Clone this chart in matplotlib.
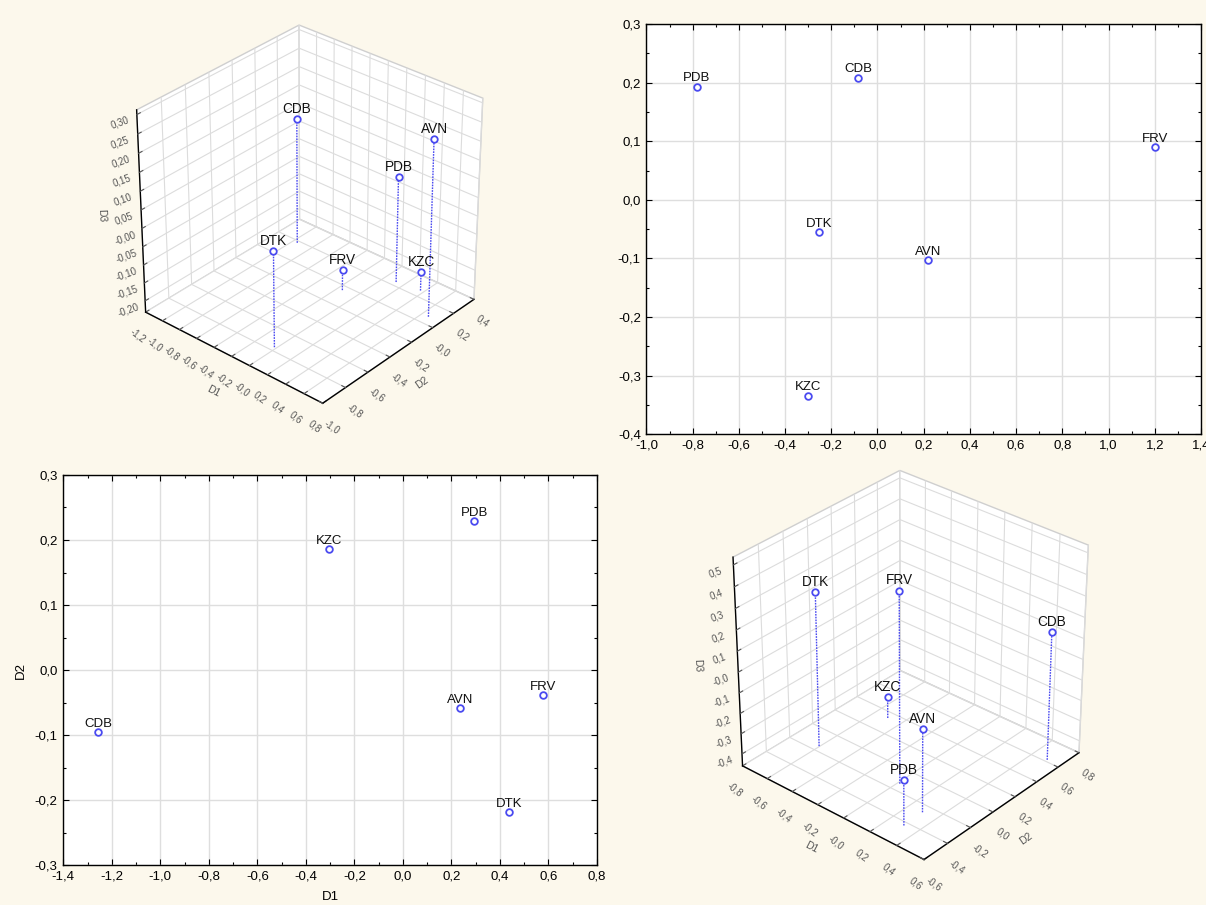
import matplotlib
matplotlib.use("Agg")
import matplotlib.pyplot as plt
from matplotlib.ticker import FuncFormatter, MultipleLocator, FixedLocator
import numpy as np

plt.rcParams['font.family'] = ['Liberation Sans', 'DejaVu Sans']

# ---------------- data ----------------
names = ["AVN", "CDB", "DTK", "FRV", "KZC", "PDB"]

# top-left 3D
tl_d1 = [0.67, -0.952, -0.02, -0.15, 0.366, 0.121]
tl_d2 = [0.073, 0.179, -0.767, -0.045, 0.263, 0.239]
tl_d3 = [0.249, 0.118, 0.031, -0.175, -0.178, 0.06]

# top-right 2D
tr_x = [0.218, -0.083, -0.252, 1.203, -0.299, -0.783]
tr_y = [-0.103, 0.208, -0.055, 0.090, -0.334, 0.193]

# bottom-left 2D (D1 vs D2)
bl_d1 = [0.235, -1.255, 0.438, 0.578, -0.305, 0.295]
bl_d2 = [-0.059, -0.096, -0.219, -0.039, 0.186, 0.229]

# bottom-right 3D
br_d1 = [0.30, 0.505, -0.604, 0.015, -0.50, 0.305]
br_d2 = [-0.265, 0.618, -0.154, -0.135, 0.342, -0.431]
br_d3 = [-0.058, 0.162, 0.292, 0.458, -0.352, -0.238]

BG = "#fcf8ec"
MK = "#4a4af0"
W, H = 1206, 905

fig = plt.figure(figsize=(W / 100, H / 100), dpi=100, facecolor=BG)


def rect(x0, y0, x1, y1):
    return [x0 / W, 1 - y1 / H, (x1 - x0) / W, (y1 - y0) / H]


def comma(fmt):
    return FuncFormatter(lambda v, p: (fmt % v).replace('.', ','))


# ---------------- 2D panels ----------------
def panel2d(r, xs, ys, xlim, ylim, xlab=None, ylab=None):
    ax = fig.add_axes(r)
    ax.set_facecolor("white")
    ax.set_xlim(*xlim)
    ax.set_ylim(*ylim)
    ax.xaxis.set_major_locator(MultipleLocator(0.2))
    ax.xaxis.set_minor_locator(MultipleLocator(0.1))
    ax.yaxis.set_major_locator(MultipleLocator(0.1))
    ax.yaxis.set_minor_locator(MultipleLocator(0.05))
    ax.xaxis.set_major_formatter(comma('%.1f'))
    ax.yaxis.set_major_formatter(comma('%.1f'))
    ax.grid(True, which='major', color='#dedede', lw=1.0)
    ax.set_axisbelow(True)
    ax.tick_params(which='both', direction='in', top=True, right=True,
                   labelsize=9.5, colors='black', pad=4)
    ax.tick_params(which='major', length=4, width=0.8)
    ax.tick_params(which='minor', length=2.5, width=0.8)
    for s in ax.spines.values():
        s.set_color('black')
        s.set_linewidth(1.0)
    ax.plot(xs, ys, 'o', ms=4.8, mfc='white', mec=MK, mew=1.3, ls='none', zorder=3)
    for n, x, y in zip(names, xs, ys):
        ax.annotate(n, (x, y), xytext=(0, 1.8), textcoords='offset points',
                    ha='center', va='bottom', fontsize=9.5, color='#111111')
    if xlab:
        ax.set_xlabel(xlab, fontsize=9.5, labelpad=6)
    if ylab:
        ax.set_ylabel(ylab, fontsize=9.5, labelpad=6)
    return ax


panel2d(rect(646.4, 24, 1201, 434.3), tr_x, tr_y, (-1.0, 1.4), (-0.4, 0.3))
panel2d(rect(63.3, 475, 597, 865), bl_d1, bl_d2, (-1.4, 0.8), (-0.3, 0.3),
        xlab='D1', ylab='D2')


# ---------------- 3D panels ----------------
def panel3d(cx, cy, zoom, zasp, xs, ys, zs, xlim, ylim, zlim, xt, yt, zt, zfmt, dz):
    r = [(cx - 240) / W, 1 - (cy + 240) / H, 480 / W, 480 / H]
    ax = fig.add_axes(r, projection='3d', proj_type='persp', focal_length=0.9)
    ax.patch.set_alpha(0)
    ax.set_facecolor((0, 0, 0, 0))
    ax.set_xlim(*xlim)
    ax.set_ylim(*ylim)
    ax.set_zlim(*zlim)
    ax.set_box_aspect((1, 1, zasp), zoom=zoom)
    ax.view_init(elev=31.5, azim=-49)
    ax.xaxis.set_major_locator(FixedLocator(xt))
    ax.yaxis.set_major_locator(FixedLocator(yt))
    ax.zaxis.set_major_locator(FixedLocator(zt))
    ax.xaxis.set_major_formatter(comma('%.1f'))
    ax.yaxis.set_major_formatter(comma('%.1f'))
    ax.zaxis.set_major_formatter(comma(zfmt))
    ax.zaxis.set_ticks_position('lower')
    ax.zaxis.set_label_position('lower')
    for a in (ax.xaxis, ax.yaxis, ax.zaxis):
        a.set_pane_color((1, 1, 1, 1))
        a.pane.set_edgecolor('#cfcfcf')
        a.line.set_color('black')
        a.line.set_linewidth(1.0)
        a._axinfo['grid'].update(color='#dcdcdc', linewidth=0.8)
        a._axinfo['tick'].update(inward_factor=0.0, outward_factor=0.25)
        a.set_rotate_label(True)
    ax.tick_params(labelsize=7, colors='#555555', pad=1)
    for t in ax.get_xticklabels():
        t.set_rotation(-38)
    for t in ax.get_yticklabels():
        t.set_rotation(-35)
    for t in ax.get_zticklabels():
        t.set_rotation(20)
    ax.set_xlabel('D1', fontsize=7.5, color='#555555', labelpad=0)
    ax.set_ylabel('D2', fontsize=7.5, color='#555555', labelpad=0)
    ax.set_zlabel('D3', fontsize=7.5, color='#555555', labelpad=0)
    z0 = zlim[0]
    for x, y, z in zip(xs, ys, zs):
        ax.plot([x, x], [y, y], [z0, z], ls=(0, (1.2, 0.8)), color=MK, lw=1.0)
    ax.scatter(xs, ys, zs, s=22, facecolors='white', edgecolors=MK,
               linewidths=1.3, depthshade=False)
    for n, x, y, z in zip(names, xs, ys, zs):
        ax.text(x, y, z + dz, n, ha='center', va='bottom', fontsize=9.8,
                color='#111111')
    return ax


panel3d(304, 214, 0.834, 0.99,
        tl_d1, tl_d2, tl_d3, (-1.2, 0.8), (-1.0, 0.4), (-0.232, 0.312),
        np.round(np.arange(-1.2, 0.81, 0.2), 2), np.round(np.arange(-1.0, 0.41, 0.2), 2),
        np.round(np.arange(-0.20, 0.301, 0.05), 2), '%.2f', 0.008)

panel3d(905, 664.5, 0.857, 0.996,
        br_d1, br_d2, br_d3, (-0.8, 0.6), (-0.6, 0.8), (-0.46, 0.535),
        np.round(np.arange(-0.8, 0.61, 0.2), 2), np.round(np.arange(-0.6, 0.81, 0.2), 2),
        np.round(np.arange(-0.4, 0.501, 0.1), 2), '%.1f', 0.015)

fig.savefig("out.png", dpi=100, facecolor=BG)
